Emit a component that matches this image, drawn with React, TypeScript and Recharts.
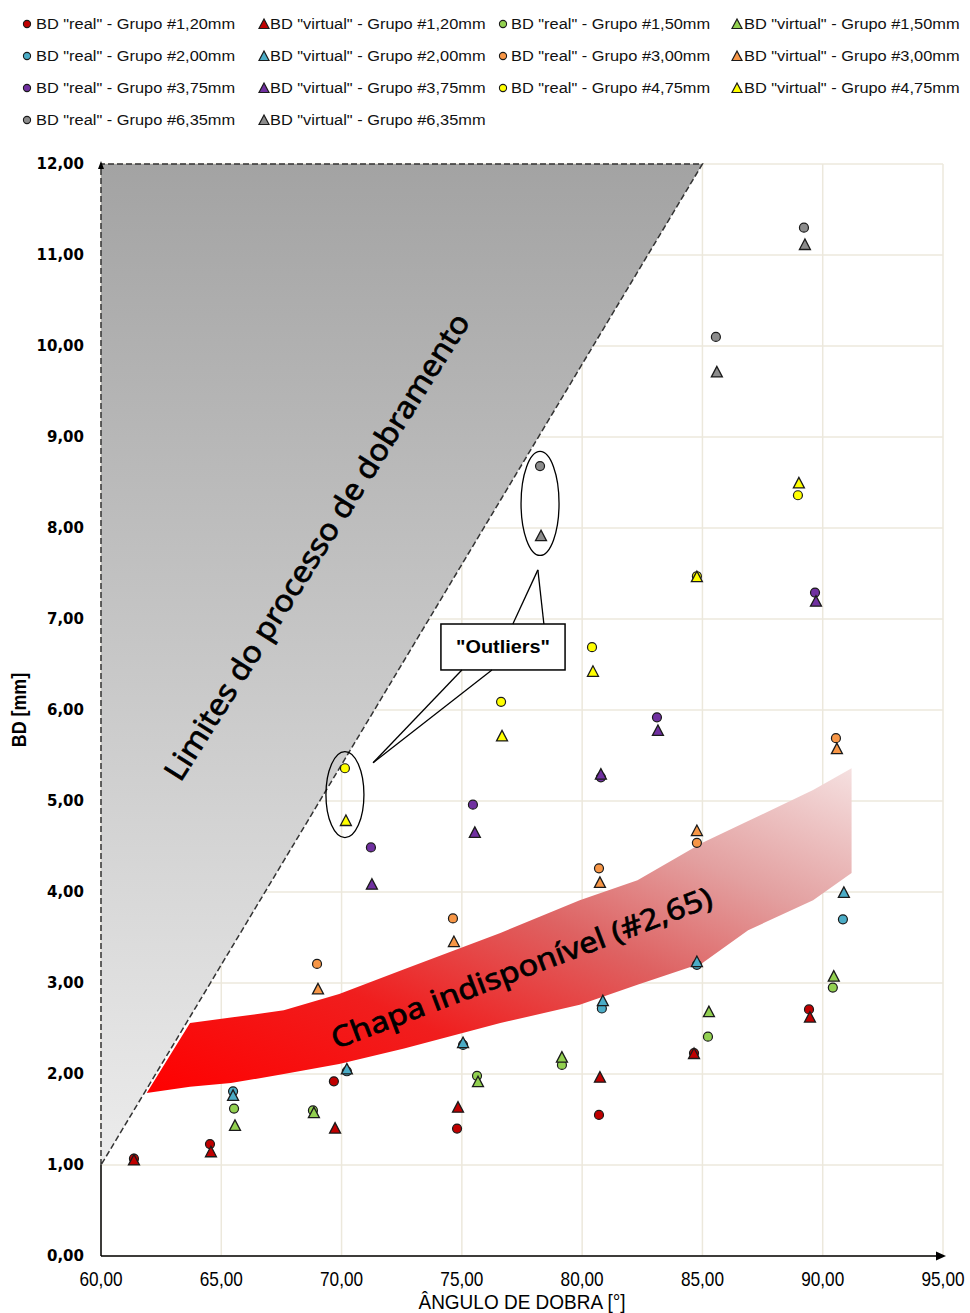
import React from 'react';
import {
  ComposedChart, Scatter, Area, XAxis, YAxis, CartesianGrid, Legend,
  ReferenceArea, ReferenceLine, ReferenceDot, Label,
} from 'recharts';

type P = { x: number; y: number };

const xTicks = [60, 65, 70, 75, 80, 85, 90, 95];
const yTicks = [0, 1, 2, 3, 4, 5, 6, 7, 8, 9, 10, 11, 12];

const groupNames = ['1,20', '1,50', '2,00', '3,00', '3,75', '4,75', '6,35'];
const groupColors = ['#c00000', '#92d050', '#4bacc6', '#f79646', '#7030a0', '#ffff00', '#8c8c8c'];

const real120: P[] = [
  { x: 61.37, y: 1.07 }, { x: 64.53, y: 1.23 }, { x: 69.68, y: 1.92 }, { x: 74.8, y: 1.4 },
  { x: 80.7, y: 1.55 }, { x: 84.65, y: 2.23 }, { x: 89.43, y: 2.71 },
];
const virt120: P[] = [
  { x: 61.37, y: 1.05 }, { x: 64.57, y: 1.14 }, { x: 69.73, y: 1.4 }, { x: 74.84, y: 1.63 },
  { x: 80.74, y: 1.96 }, { x: 84.65, y: 2.22 }, { x: 89.47, y: 2.62 },
];
const real150: P[] = [
  { x: 65.53, y: 1.62 }, { x: 68.81, y: 1.6 }, { x: 75.63, y: 1.98 }, { x: 79.16, y: 2.1 },
  { x: 85.23, y: 2.41 }, { x: 90.42, y: 2.95 },
];
const virt150: P[] = [
  { x: 65.57, y: 1.43 }, { x: 68.85, y: 1.57 }, { x: 75.67, y: 1.91 }, { x: 79.16, y: 2.18 },
  { x: 85.27, y: 2.68 }, { x: 90.46, y: 3.07 },
];
const real200: P[] = [
  { x: 65.49, y: 1.81 }, { x: 70.22, y: 2.03 }, { x: 75.05, y: 2.32 }, { x: 80.82, y: 2.72 },
  { x: 84.77, y: 3.2 }, { x: 90.84, y: 3.7 },
];
const virt200: P[] = [
  { x: 65.49, y: 1.76 }, { x: 70.22, y: 2.05 }, { x: 75.05, y: 2.34 }, { x: 80.86, y: 2.8 },
  { x: 84.77, y: 3.23 }, { x: 90.88, y: 3.99 },
];
const real300: P[] = [
  { x: 68.98, y: 3.21 }, { x: 74.63, y: 3.71 }, { x: 80.7, y: 4.26 }, { x: 84.77, y: 4.54 },
  { x: 90.55, y: 5.69 },
];
const virt300: P[] = [
  { x: 69.02, y: 2.93 }, { x: 74.67, y: 3.45 }, { x: 80.74, y: 4.1 }, { x: 84.77, y: 4.67 },
  { x: 90.59, y: 5.57 },
];
const real375: P[] = [
  { x: 71.22, y: 4.49 }, { x: 75.46, y: 4.96 }, { x: 80.78, y: 5.26 }, { x: 83.11, y: 5.92 },
  { x: 89.68, y: 7.29 },
];
const virt375: P[] = [
  { x: 71.26, y: 4.08 }, { x: 75.54, y: 4.65 }, { x: 80.78, y: 5.29 }, { x: 83.15, y: 5.77 },
  { x: 89.72, y: 7.19 },
];
const real475: P[] = [
  { x: 70.14, y: 5.36 }, { x: 76.63, y: 6.09 }, { x: 80.41, y: 6.69 }, { x: 84.77, y: 7.47 },
  { x: 88.97, y: 8.36 },
];
const virt475: P[] = [
  { x: 70.18, y: 4.78 }, { x: 76.67, y: 5.71 }, { x: 80.45, y: 6.42 }, { x: 84.77, y: 7.46 },
  { x: 89.01, y: 8.49 },
];
const real635: P[] = [
  { x: 78.25, y: 8.68 }, { x: 85.56, y: 10.1 }, { x: 89.22, y: 11.3 },
];
const virt635: P[] = [
  { x: 78.29, y: 7.91 }, { x: 85.6, y: 9.71 }, { x: 89.26, y: 11.11 },
];

const realData = [real120, real150, real200, real300, real375, real475, real635];
const virtData = [virt120, virt150, virt200, virt300, virt375, virt475, virt635];

// "Chapa indisponível" band
const bandX = [61.9, 63.7, 65.4, 67.6, 69.9, 72.6, 76.6, 79.9, 82.3, 85.0, 86.9, 89.6, 91.2];
const bandLow = [1.79, 1.86, 1.9, 2.0, 2.11, 2.28, 2.56, 2.76, 2.98, 3.22, 3.58, 3.91, 4.21];
const bandHigh = [1.79, 2.56, 2.62, 2.7, 2.88, 3.15, 3.55, 3.91, 4.13, 4.54, 4.78, 5.12, 5.36];
const band = bandX.map((x, i) => ({ x, range: [bandLow[i], bandHigh[i]] }));

const fmt = (v: number) => v.toFixed(2).replace('.', ',');

const Circ = (p: any) => {
  if (p.cx == null || p.cy == null) return null;
  return <circle cx={p.cx} cy={p.cy} r={4.5} fill={p.fill} stroke="#1a1a1a" strokeWidth={1.2} />;
};
const Tri = (p: any) => {
  if (p.cx == null || p.cy == null) return null;
  const { cx, cy } = p;
  return (
    <polygon
      points={`${cx},${cy - 6} ${cx - 5.5},${cy + 4.5} ${cx + 5.5},${cy + 4.5}`}
      fill={p.fill}
      stroke="#1a1a1a"
      strokeWidth={1.3}
    />
  );
};

const legendMarkerX = [27, 264, 503, 737];
const legendTextX = [36, 270, 511, 744];

const LegendContent = () => {
  const items: { label: string; color: string; tri: boolean }[] = [];
  groupNames.forEach((g, i) => {
    items.push({ label: `BD "real" - Grupo #${g}mm`, color: groupColors[i], tri: false });
    items.push({ label: `BD "virtual" - Grupo #${g}mm`, color: groupColors[i], tri: true });
  });
  return (
    <div style={{ position: 'relative', width: 970, height: 156 }}>
      {items.map((it, i) => {
        const row = Math.floor(i / 4);
        const col = i % 4;
        const cy = 16 + row * 32;
        return (
          <React.Fragment key={i}>
            <svg
              width={14}
              height={14}
              style={{ position: 'absolute', left: legendMarkerX[col] - 7, top: cy - 7 }}
            >
              {it.tri ? (
                <polygon points="7,2 2,11.5 12,11.5" fill={it.color} stroke="#1a1a1a" strokeWidth={1.2} />
              ) : (
                <circle cx={7} cy={7} r={3.6} fill={it.color} stroke="#1a1a1a" strokeWidth={1.1} />
              )}
            </svg>
            <div
              style={{
                position: 'absolute',
                left: legendTextX[col],
                top: cy - 9,
                height: 18,
                lineHeight: '18px',
                fontFamily: '"Liberation Sans", Arial, sans-serif',
                fontSize: 14,
                color: '#111',
                whiteSpace: 'nowrap',
                transform: 'scaleX(1.17)',
                transformOrigin: 'left center',
              }}
            >
              {it.label}
            </div>
          </React.Fragment>
        );
      })}
    </div>
  );
};

const XTick = (p: any) => {
  const { x, y, payload } = p;
  return (
    <text
      transform={`translate(${x} ${y + 22}) scale(0.82 1)`}
      x={0}
      y={0}
      textAnchor="middle"
      fontFamily='"Liberation Sans", Arial, sans-serif'
      fontSize={21}
      fill="#000"
    >
      {fmt(payload.value)}
    </text>
  );
};

export default function App() {
  return (
    <div style={{ position: 'absolute', left: 0, top: 0, width: 970, height: 1313, background: '#fff' }}>
      <ComposedChart
        width={970}
        height={1313}
        data={band}
        margin={{ top: 8, right: 27, left: 0, bottom: 0 }}
      >
        <defs>
          <linearGradient id="grayGrad" x1="0" y1="0" x2="0" y2="1">
            <stop offset="0" stopColor="#a3a3a3" />
            <stop offset="1" stopColor="#ececec" />
          </linearGradient>
          <linearGradient id="redGrad" x1="0" y1="1" x2="1" y2="0">
            <stop offset="0" stopColor="#ff0000" />
            <stop offset="0.3" stopColor="#f01e1e" />
            <stop offset="0.55" stopColor="#de6262" />
            <stop offset="0.75" stopColor="#e3a0a0" />
            <stop offset="1" stopColor="#f5e0e0" />
          </linearGradient>
        </defs>
        <Legend verticalAlign="top" align="left" content={LegendContent} wrapperStyle={{ width: 970, left: 0 }} />
        <CartesianGrid stroke="#ece8dc" strokeWidth={1.5} />
        <XAxis
          type="number"
          dataKey="x"
          domain={[60, 95]}
          ticks={xTicks}
          allowDataOverflow
          height={57}
          tickLine={false}
          tickSize={6}
          tickMargin={2}
          axisLine={{ stroke: '#000', strokeWidth: 1.5 }}
          tick={XTick}
        >
          <Label
            content={(lp: any) => {
              const vb = lp.viewBox || {};
              const cx = vb.x + vb.width / 2;
              return (
                <text
                  transform={`translate(${cx} ${vb.y + 53}) scale(0.95 1)`}
                  x={0}
                  y={0}
                  textAnchor="middle"
                  fontFamily='"Liberation Sans", Arial, sans-serif'
                  fontSize={20}
                  fill="#000"
                >
                  ÂNGULO DE DOBRA [°]
                </text>
              );
            }}
          />
        </XAxis>
        <YAxis
          type="number"
          dataKey="y"
          domain={[0, 12]}
          ticks={yTicks}
          allowDataOverflow
          width={101}
          tickLine={false}
          tickSize={6}
          tickMargin={11}
          axisLine={false}
          tickFormatter={fmt}
          tick={{ fontFamily: '"DejaVu Sans", Verdana, sans-serif', fontSize: 15, fontWeight: 700, fill: '#000' }}
        >
          <Label
            content={(lp: any) => {
              const vb = lp.viewBox || {};
              const cy = vb.y + vb.height / 2;
              return (
                <text
                  transform={`translate(26 ${cy}) rotate(-90) scale(0.85 1)`}
                  x={0}
                  y={0}
                  textAnchor="middle"
                  fontFamily='"Liberation Sans", Arial, sans-serif'
                  fontSize={21}
                  fontWeight={700}
                  fill="#000"
                >
                  BD [mm]
                </text>
              );
            }}
          />
        </YAxis>

        <ReferenceArea
          x1={60}
          x2={85}
          y1={1}
          y2={12}
          ifOverflow="visible"
          shape={(p: any) => {
            const { x, y, width, height } = p;
            return (
              <g>
                <polygon points={`${x},${y} ${x + width},${y} ${x},${y + height}`} fill="url(#grayGrad)" />
                <polyline
                  points={`${x},${y + height} ${x},${y} ${x + width},${y} ${x},${y + height}`}
                  fill="none"
                  stroke="#333"
                  strokeWidth={1.5}
                  strokeDasharray="6 3"
                />
              </g>
            );
          }}
        />
        <ReferenceLine segment={[{ x: 60, y: 0 }, { x: 60, y: 1 }]} stroke="#000" strokeWidth={1.5} ifOverflow="visible" />

        <Area
          dataKey="range"
          type="linear"
          fill="url(#redGrad)"
          fillOpacity={1}
          stroke="none"
          isAnimationActive={false}
          dot={false}
          activeDot={false}
        />

        {groupNames.map((g, i) => [
          <Scatter
            key={`r${i}`}
            name={`BD "real" - Grupo #${g}mm`}
            data={realData[i]}
            fill={groupColors[i]}
            shape={Circ}
            isAnimationActive={false}
          />,
          <Scatter
            key={`v${i}`}
            name={`BD "virtual" - Grupo #${g}mm`}
            data={virtData[i]}
            fill={groupColors[i]}
            shape={Tri}
            isAnimationActive={false}
          />,
        ])}

        {/* annotations */}
        <ReferenceDot
          x={68.94}
          y={7.8}
          ifOverflow="visible"
          shape={(p: any) => (
            <text
              x={p.cx}
              y={p.cy}
              transform={`rotate(-57.8 ${p.cx} ${p.cy})`}
              textAnchor="middle"
              dominantBaseline="central"
              textLength={545}
              lengthAdjust="spacingAndGlyphs"
              fontFamily='"Noto Sans", "Open Sans", sans-serif'
              fontSize={30}
              fill="#000"
              stroke="#000"
              strokeWidth={0.7}
            >
              Limites do processo de dobramento
            </text>
          )}
        />
        <ReferenceDot
          x={77.46}
          y={3.18}
          ifOverflow="visible"
          shape={(p: any) => (
            <text
              x={p.cx}
              y={p.cy}
              transform={`rotate(-20.8 ${p.cx} ${p.cy})`}
              textAnchor="middle"
              dominantBaseline="central"
              textLength={405}
              lengthAdjust="spacingAndGlyphs"
              fontFamily='"Noto Sans", "Open Sans", sans-serif'
              fontSize={29}
              fill="#000"
              stroke="#000"
              strokeWidth={0.7}
            >
              Chapa indisponível (#2,65)
            </text>
          )}
        />
        <ReferenceDot
          x={78.25}
          y={8.27}
          ifOverflow="visible"
          shape={(p: any) => <ellipse cx={p.cx} cy={p.cy} rx={19} ry={52} fill="none" stroke="#000" strokeWidth={1.3} />}
        />
        <ReferenceDot
          x={70.14}
          y={5.07}
          ifOverflow="visible"
          shape={(p: any) => <ellipse cx={p.cx} cy={p.cy} rx={19} ry={43} fill="none" stroke="#000" strokeWidth={1.3} />}
        />
        <ReferenceLine segment={[{ x: 77.12, y: 6.945 }, { x: 78.16, y: 7.54 }]} stroke="#000" strokeWidth={1.3} />
        <ReferenceLine segment={[{ x: 78.41, y: 6.945 }, { x: 78.16, y: 7.54 }]} stroke="#000" strokeWidth={1.3} />
        <ReferenceLine segment={[{ x: 75.0, y: 6.44 }, { x: 71.31, y: 5.42 }]} stroke="#000" strokeWidth={1.3} />
        <ReferenceLine segment={[{ x: 76.25, y: 6.44 }, { x: 71.31, y: 5.42 }]} stroke="#000" strokeWidth={1.3} />
        <ReferenceArea
          x1={74.13}
          x2={79.29}
          y1={6.44}
          y2={6.945}
          ifOverflow="visible"
          shape={(p: any) => {
            const { x, y, width, height } = p;
            return (
              <g>
                <rect x={x} y={y} width={width} height={height} fill="#fff" stroke="#000" strokeWidth={1.5} />
                <text
                  x={x + width / 2}
                  y={y + height / 2}
                  textAnchor="middle"
                  dominantBaseline="central"
                  fontFamily='"Liberation Sans", Arial, sans-serif'
                  fontWeight={700}
                  fontSize={18}
                  textLength={94}
                  lengthAdjust="spacingAndGlyphs"
                  fill="#000"
                >
                  "Outliers"
                </text>
              </g>
            );
          }}
        />
        <ReferenceDot
          x={95}
          y={0}
          ifOverflow="visible"
          shape={(p: any) => (
            <polygon points={`${p.cx + 3},${p.cy} ${p.cx - 7},${p.cy - 4.5} ${p.cx - 7},${p.cy + 4.5}`} fill="#000" />
          )}
        />
        <ReferenceDot
          x={60}
          y={12}
          ifOverflow="visible"
          shape={(p: any) => (
            <polygon points={`${p.cx},${p.cy - 3} ${p.cx - 3},${p.cy + 5} ${p.cx + 3},${p.cy + 5}`} fill="#000" />
          )}
        />
      </ComposedChart>
    </div>
  );
}
